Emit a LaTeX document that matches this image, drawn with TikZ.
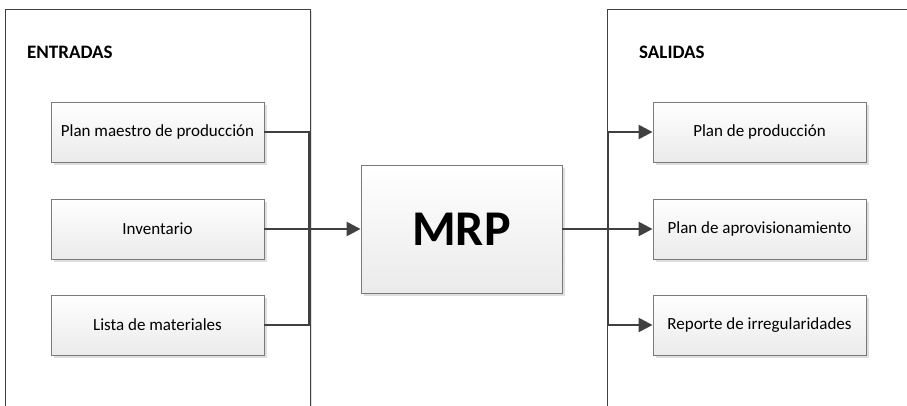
\documentclass[tikz,border=0pt]{standalone}
\usepackage{fontspec}
\setmainfont{Carlito}
\usetikzlibrary{arrows.meta,shadows}
\definecolor{wirecol}{HTML}{404040}
\definecolor{edgecol}{HTML}{7A7A7A}
\tikzset{
  px/.style={x=1pt,y=-1pt},
  boxshadow/.style={drop shadow={shadow xshift=3pt,shadow yshift=-3pt,fill=black!13,opacity=1}},
  itembox/.style={draw=edgecol,line width=0.9pt,top color=white,bottom color=black!8,
    boxshadow,minimum width=213pt,minimum height=60pt,inner sep=0pt,
    font=\fontsize{17}{20}\selectfont},
  corebox/.style={draw=edgecol,line width=0.9pt,top color=white,bottom color=black!8,
    boxshadow,minimum width=201pt,minimum height=128pt,inner sep=0pt,
    font=\bfseries\fontsize{50}{56}\selectfont},
  panel/.style={draw=black!75,line width=0.7pt,fill=white,anchor=north west,
    drop shadow={shadow xshift=2pt,shadow yshift=-2pt,fill=black!12,opacity=1}},
  heading/.style={anchor=base west,inner sep=0pt,font=\bfseries\fontsize{19}{22}\selectfont},
  wire/.style={draw=wirecol,line width=2.5pt},
  arrowwire/.style={wire,-{Triangle[length=14pt,width=14pt]}},
}
\begin{document}
\begin{tikzpicture}[px]
\useasboundingbox (0,0) rectangle (907,406);
% side panels, open past the page edge
\node[panel,minimum width=305pt,minimum height=430pt] (inpanel) at (5,9) {};
\node[panel,minimum width=330pt,minimum height=430pt] (outpanel) at (607,9) {};
\node[heading] (inhead) at (27,59) {ENTRADAS};
\node[heading] (outhead) at (639,59) {SALIDAS};
% inputs
\node[itembox] (in1) at (157.5,132) {Plan maestro de producción};
\node[itembox] (in2) at (157.5,229) {Inventario};
\node[itembox] (in3) at (157.5,325) {Lista de materiales};
% core process
\node[corebox] (mrp) at (461.5,229) {MRP};
% outputs
\node[itembox] (out1) at (759.5,132) {Plan de producción};
\node[itembox] (out2) at (759.5,229) {Plan de aprovisionamiento};
\node[itembox] (out3) at (759.5,325) {Reporte de irregularidades};
% junctions
\coordinate (jin) at (309,229);
\coordinate (jout) at (608,229);
% connectors
\draw[wire] (in1.east) -| (jin);
\draw[wire] (in3.east) -| (jin);
\draw[arrowwire] (in2.east) -- (mrp.west);
\draw[wire] (mrp.east) -- (jout);
\draw[arrowwire] (jout) |- (out1.west);
\draw[arrowwire] (mrp.east) -- (out2.west);
\draw[arrowwire] (jout) |- (out3.west);
\end{tikzpicture}
\end{document}
